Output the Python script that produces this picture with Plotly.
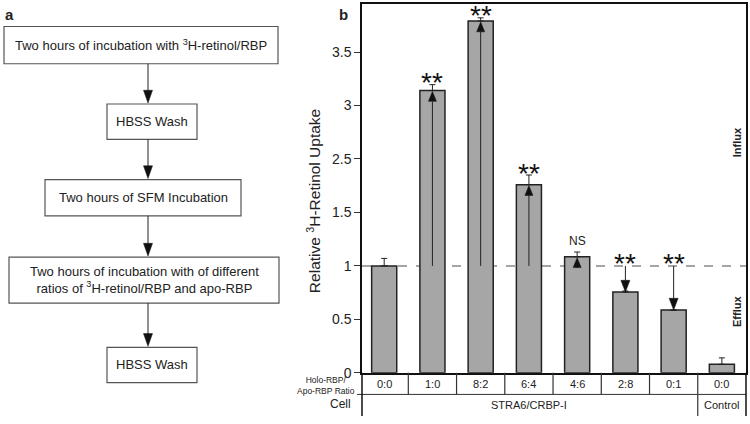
import plotly.graph_objects as go

# ---- data ----
ratios = ["0:0", "1:0", "8:2", "6:4", "4:6", "2:8", "0:1", "0:0"]
uptake = [1.0, 3.14, 3.79, 2.02, 1.085, 0.755, 0.587, 0.08]
errors = [0.07, 0.055, 0.03, 0.18, 0.045, 0.01, 0.0, 0.06]
signif = ["", "**", "**", "**", "NS", "**", "**", ""]
tick_values = [0, 0.5, 1, 1.5, 2.5, 3, 3.5]
tick_labels = ["0", "0.5", "1", "1.5", "2.5", "3", "3.5"]
cell_groups = [("STRA6/CRBP-I", 0, 6), ("Control", 7, 7)]
flow_steps = [
    "Two hours of incubation with <sup>3</sup>H-retinol/RBP",
    "HBSS Wash",
    "Two hours of SFM Incubation",
    "Two hours of incubation with of different<br>ratios of <sup>3</sup>H-retinol/RBP and apo-RBP",
    "HBSS Wash",
]

W, H = 750, 424
FONT = "Liberation Sans, Arial, sans-serif"

# plot area in pixels
PL, PR, PT, PB = 362, 746, 4, 380
XR = (-0.46, 7.5)
YR = (0, 3.45)
XU = (PR - PL) / (XR[1] - XR[0])   # px per x unit
YU = (PB - PT) / (YR[1] - YR[0])   # px per y unit


def disp(v):
    """broken y axis: 1.5 -> 2.5 compressed"""
    if v <= 1.5:
        return v
    if v >= 2.5:
        return v - 0.5
    return 1.5 + (v - 1.5) * 0.5


def px(x):
    return x / W


def py(y):
    return 1 - y / H


def label(x, y, text, size, xref="paper", yref="paper", **kw):
    d = dict(x=x, y=y, xref=xref, yref=yref, text=text, showarrow=False,
             xanchor="center", yanchor="middle",
             font=dict(size=size, family=FONT, color="#222"))
    d.update(kw)
    return d


xs = list(range(len(ratios)))
ydisp = [disp(v) for v in uptake]
err_disp = [disp(v + e) - disp(v) for v, e in zip(uptake, errors)]

fig = go.Figure()
fig.add_trace(go.Bar(
    x=xs, y=ydisp, width=0.52,
    marker=dict(color="#a6a6a6", line=dict(color="#222", width=1.5)),
    error_y=dict(type="data", array=err_disp, arrayminus=[0] * len(xs),
                 symmetric=False, color="#222", thickness=1, width=3),
    showlegend=False, hoverinfo="skip",
))

shapes = []
ann = []

# dashed reference line at 1
shapes.append(dict(type="line", xref="x", yref="y", x0=XR[0], x1=XR[1],
                   y0=disp(1), y1=disp(1),
                   line=dict(color="#888", width=1.5, dash="dash"), layer="below"))

# arrows from reference line to bar tops (stem + triangular head)
ref = disp(1)
for i in range(1, 7):
    top = ydisp[i]
    up = top > ref
    hh = (10 if up else 12) / YU      # head height in y units
    hw = (4 if up else 4.5) / XU      # half head width in x units
    tip = top - (1 / YU if up else 0)
    base = tip - hh if up else tip + hh
    shapes.append(dict(type="line", xref="x", yref="y", x0=i, x1=i, y0=ref, y1=base,
                       line=dict(color="#222", width=1)))
    shapes.append(dict(type="path", xref="x", yref="y",
                       path=f"M{i - hw},{base} L{i + hw},{base} L{i},{tip} Z",
                       fillcolor="#111", line=dict(color="#111", width=0.5)))

# significance labels
for i, s in enumerate(signif):
    if not s:
        continue
    top = ydisp[i] + err_disp[i]
    if s == "NS":
        ann.append(label(i, top, "NS", 12, xref="x", yref="y", yanchor="bottom", yshift=2))
    else:
        base = max(top, disp(1)) if uptake[i] < 1 else top
        ann.append(label(i, base, "**", 28, xref="x", yref="y", yshift=2,
                         font=dict(size=28, family=FONT, color="#111")))

# table below plot
row1_top, row1_bot, row2_bot = 380, 402, 424
for i in range(len(ratios) - 1):
    shapes.append(dict(type="line", xref="x", yref="paper", x0=i + 0.5, x1=i + 0.5,
                       y0=py(row1_top), y1=py(row1_bot), line=dict(color="#333", width=1.2)))
shapes.append(dict(type="line", xref="x", yref="paper", x0=6.5, x1=6.5,
                   y0=py(row1_bot), y1=py(row2_bot), line=dict(color="#333", width=1.2)))
shapes.append(dict(type="line", xref="paper", yref="paper", x0=px(357), x1=px(PR),
                   y0=py(row1_bot), y1=py(row1_bot), line=dict(color="#333", width=1)))
for xx in (PL, PR):
    shapes.append(dict(type="line", xref="paper", yref="paper", x0=px(xx), x1=px(xx),
                       y0=py(row1_top), y1=py(row2_bot), line=dict(color="#111", width=1.5)))
for i, r in enumerate(ratios):
    ann.append(label(i, py(391), r, 11, xref="x"))
for name, a, b in cell_groups:
    ann.append(label((a + b) / 2, py(413), name, 11, xref="x"))
ann.append(label(px(326), py(393), "Holo-RBP/<br>Apo-RBP Ratio", 8.5))
ann.append(label(px(340), py(412), "Cell", 12))

# axis title and side labels
ann.append(label(px(314), py(205), "Relative <sup>3</sup>H-Retinol Uptake", 15.5, textangle=-90))
ann.append(label(px(737), py(145), "<b>Influx</b>", 11, textangle=-90))
ann.append(label(px(737), py(318), "<b>Efflux</b>", 11, textangle=-90))
ann.append(label(px(343), py(15), "<b>b</b>", 15))
ann.append(label(px(9), py(15), "<b>a</b>", 15))

# flowchart
boxes = [(4, 278, 27, 65), (107, 197, 106, 142), (45, 241, 183, 220),
         (9, 279, 262, 309), (107, 197, 354, 390)]
for (x0, x1, y0, y1), txt in zip(boxes, flow_steps):
    shapes.append(dict(type="rect", xref="paper", yref="paper", x0=px(x0), x1=px(x1),
                       y0=py(y0), y1=py(y1), line=dict(color="#555", width=1.2)))
    ann.append(label(px((x0 + x1) / 2), py((y0 + y1) / 2), txt, 13))
AX = 148
for k in range(len(boxes) - 1):
    y_from, y_to = boxes[k][3], boxes[k + 1][2] - 1
    shapes.append(dict(type="line", xref="paper", yref="paper", x0=px(AX), x1=px(AX),
                       y0=py(y_from), y1=py(y_to - 12), line=dict(color="#222", width=1)))
    shapes.append(dict(type="path", xref="paper", yref="paper",
                       path=f"M{px(AX - 4.5)},{py(y_to - 13)} L{px(AX + 4.5)},{py(y_to - 13)} "
                            f"L{px(AX)},{py(y_to)} Z",
                       fillcolor="#111", line=dict(color="#111", width=0.5)))

fig.update_layout(
    width=W, height=H, margin=dict(l=0, r=0, t=0, b=0),
    paper_bgcolor="white", plot_bgcolor="white",
    bargap=0.3,
    xaxis=dict(domain=[px(PL), px(PR)], range=list(XR), showticklabels=False,
               ticks="", showgrid=False, zeroline=False, showline=True,
               linecolor="#111", linewidth=1.5, mirror=True, fixedrange=True),
    yaxis=dict(domain=[py(PB), py(PT)], range=list(YR), tickvals=[disp(t) for t in tick_values],
               ticktext=tick_labels, ticks="outside", ticklen=6, tickcolor="#333",
               showgrid=False, zeroline=False, showline=True, linecolor="#111",
               linewidth=1.5, mirror=True,
               tickfont=dict(size=14, family=FONT, color="#222")),
    shapes=shapes, annotations=ann,
)

fig.write_html("out.html", config={"displayModeBar": False},
               post_script="document.body.style.margin='0';")
